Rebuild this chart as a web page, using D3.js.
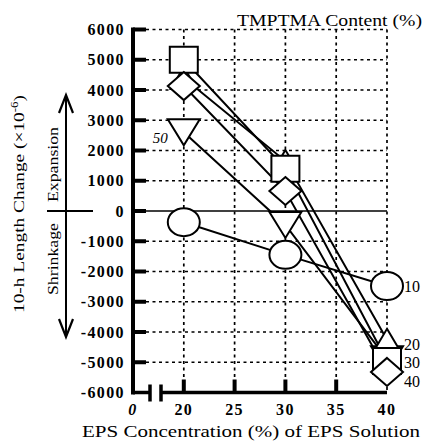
<!DOCTYPE html>
<html><head><meta charset="utf-8">
<script src="https://cdn.jsdelivr.net/npm/d3@7"></script>
<style>body{margin:0;background:#fff}</style>
</head><body><svg id="c" width="427" height="441"></svg>
<script>
// ---- data ----
const concentrations = [20, 30, 40];
const seriesNames = ["10", "20", "30", "40", "50"];
const s10 = [-370, -1450, -2480];   // circle
const s20 = [4400, 1650, -4260];    // triangle up
const s30 = [5000, 1400, -4960];    // square
const s40 = [4130, 660, -5320];     // diamond
const s50 = [2600, -460, -4900];    // triangle down
const yTickValues = [6000, 5000, 4000, 3000, 2000, 1000, 0, -1000, -2000, -3000, -4000, -5000, -6000];
const xTickValues = [15, 20, 25, 30, 35, 40];
const xTickLabels = ["0", "20", "25", "30", "35", "40"];

const svg = d3.select("#c");
const x = d3.scaleLinear().domain([15, 40]).range([133, 387]);
const y = d3.scaleLinear().domain([-6000, 6000]).range([392.5, 29.5]);
const FONT = '"Liberation Serif"';
const T = (sel) => sel.append("text").style("font-family", FONT).attr("fill", "#000");

// grid
const grid = svg.append("g").attr("stroke", "#000").attr("stroke-width", 1.7).attr("stroke-dasharray", "3,3.5");
yTickValues.filter(v => v !== 0 && v !== -6000).forEach(v => {
  grid.append("line").attr("x1", x(15)).attr("x2", x(40)).attr("y1", y(v)).attr("y2", y(v));
});
xTickValues.filter(v => v >= 20).forEach(v => {
  grid.append("line").attr("x1", x(v)).attr("x2", x(v)).attr("y1", y(6000)).attr("y2", y(-6000));
});
// zero line
svg.append("line").attr("x1", x(15)).attr("x2", x(40)).attr("y1", y(0)).attr("y2", y(0))
  .attr("stroke", "#000").attr("stroke-width", 1.6);

// axes
svg.append("line").attr("x1", x(15)).attr("x2", x(15)).attr("y1", y(6000) - 2).attr("y2", y(-6000) + 2)
  .attr("stroke", "#000").attr("stroke-width", 4);
yTickValues.filter(v => v !== -6000).forEach(v => {
  svg.append("rect").attr("x", x(15)).attr("y", y(v) - 2).attr("width", 13).attr("height", 4).attr("fill", "#000");
});
const yb = y(-6000);
svg.append("line").attr("x1", x(15)).attr("x2", 150).attr("y1", yb).attr("y2", yb).attr("stroke", "#000").attr("stroke-width", 3.5);
svg.append("line").attr("x1", 161).attr("x2", x(40)).attr("y1", yb).attr("y2", yb).attr("stroke", "#000").attr("stroke-width", 3.5);
[150, 161].forEach(bx => svg.append("line").attr("x1", bx).attr("x2", bx).attr("y1", yb - 8).attr("y2", yb + 9).attr("stroke", "#000").attr("stroke-width", 3.5));
xTickValues.filter(v => v >= 20 && v < 40).forEach(v => {
  svg.append("rect").attr("x", x(v) - 2).attr("y", yb - 13).attr("width", 4).attr("height", 13).attr("fill", "#000");
});

// tick labels
yTickValues.forEach(v => {
  T(svg).attr("x", 125).attr("y", y(v)).attr("dy", "0.35em").attr("text-anchor", "end")
    .attr("font-size", 16).attr("font-weight", "bold").attr("letter-spacing", 1.4).text(v);
});
xTickValues.forEach((v, i) => {
  T(svg).attr("x", x(v)).attr("y", 409).attr("dy", "0.35em").attr("text-anchor", "middle")
    .attr("font-size", 16).attr("font-weight", "bold").attr("font-style", i === 0 ? "italic" : "normal")
    .attr("letter-spacing", 1.4).text(xTickLabels[i]);
});

// titles
T(svg).attr("x", 82).attr("y", 437).attr("font-size", 17)
  .attr("textLength", 338).attr("lengthAdjust", "spacingAndGlyphs").text("EPS Concentration (%) of EPS Solution");
T(svg).attr("x", 237).attr("y", 26).attr("font-size", 17)
  .attr("textLength", 185).attr("lengthAdjust", "spacingAndGlyphs").text("TMPTMA Content (%)");
const yt = T(svg).attr("transform", "translate(24,313) rotate(-90)").attr("font-size", 15)
  .attr("textLength", 218).attr("lengthAdjust", "spacingAndGlyphs");
yt.append("tspan").text("10-h Length Change (\u00D710");
yt.append("tspan").attr("dy", -6).attr("font-size", 10).text("-6");
yt.append("tspan").attr("dy", 6).text(")");

// expansion/shrinkage arrow
svg.append("line").attr("x1", 66).attr("x2", 66).attr("y1", 97).attr("y2", 335).attr("stroke", "#000").attr("stroke-width", 2);
svg.append("line").attr("x1", 47).attr("x2", 93).attr("y1", y(0)).attr("y2", y(0)).attr("stroke", "#000").attr("stroke-width", 2);
svg.append("path").attr("d", "M59,113 L66,95 L73,113").attr("fill", "none").attr("stroke", "#000").attr("stroke-width", 2.2);
svg.append("path").attr("d", "M59,319 L66,337 L73,319").attr("fill", "none").attr("stroke", "#000").attr("stroke-width", 2.2);
T(svg).attr("transform", "translate(58,202) rotate(-90)").attr("font-size", 15)
  .attr("textLength", 75).attr("lengthAdjust", "spacingAndGlyphs").text("Expansion");
T(svg).attr("transform", "translate(58,295) rotate(-90)").attr("font-size", 15)
  .attr("textLength", 72).attr("lengthAdjust", "spacingAndGlyphs").text("Shrinkage");

// series
const shapes = {
  tdown: "M-16,-13 L16,-13 L0,13 Z",
  tup: "M0,-11 L13,11 L-13,11 Z",
  square: "M-14,-13 L14,-13 L14,13 L-14,13 Z",
  diamond: "M0,-14 L16,0 L0,14 L-16,0 Z",
  circle: null
};
const series = [
  { name: seriesNames[4], vals: s50, shape: "tdown" },
  { name: seriesNames[1], vals: s20, shape: "tup" },
  { name: seriesNames[2], vals: s30, shape: "square" },
  { name: seriesNames[3], vals: s40, shape: "diamond" },
  { name: seriesNames[0], vals: s10, shape: "circle" }
];
const line = d3.line().x((d, i) => x(concentrations[i])).y(d => y(d));
series.forEach(s => {
  svg.append("path").attr("d", line(s.vals)).attr("fill", "none").attr("stroke", "#000").attr("stroke-width", 2);
});
series.forEach(s => {
  s.vals.forEach((v, i) => {
    const cx = x(concentrations[i]), cy = y(v);
    if (s.shape === "circle") {
      svg.append("ellipse").attr("cx", cx).attr("cy", cy).attr("rx", 16).attr("ry", 14)
        .attr("fill", "#fff").attr("stroke", "#000").attr("stroke-width", 2);
    } else {
      svg.append("path").attr("transform", `translate(${cx},${cy})`).attr("d", shapes[s.shape])
        .attr("fill", "#fff").attr("stroke", "#000").attr("stroke-width", 2).attr("stroke-linejoin", "miter");
    }
  });
});

// series labels
const lastX = x(40) + 17;
T(svg).attr("x", lastX).attr("y", y(s10[2])).attr("dy", "0.35em").attr("font-size", 16).text(seriesNames[0]);
T(svg).attr("x", lastX).attr("y", 344).attr("dy", "0.35em").attr("font-size", 16).text(seriesNames[1]);
T(svg).attr("x", lastX).attr("y", 362).attr("dy", "0.35em").attr("font-size", 16).text(seriesNames[2]);
T(svg).attr("x", lastX).attr("y", 381).attr("dy", "0.35em").attr("font-size", 16).text(seriesNames[3]);
T(svg).attr("x", x(20) - 31).attr("y", y(s50[0]) + 5).attr("dy", "0.35em").attr("font-size", 15)
  .attr("font-style", "italic").text(seriesNames[4]);
</script></body></html>
